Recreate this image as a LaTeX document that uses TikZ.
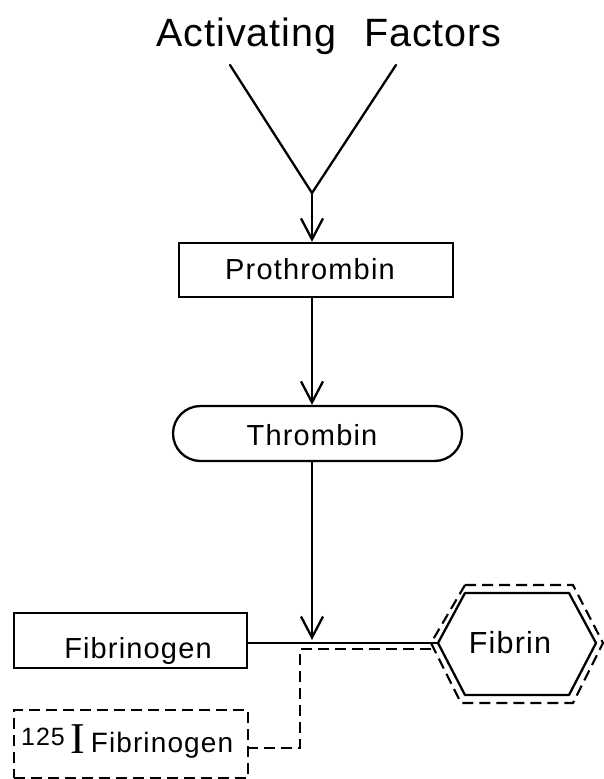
\documentclass[tikz,border=0pt]{standalone}
\usepackage{fontspec}
\setmainfont{Liberation Sans}
\newfontfamily\widefont[LetterSpace=4]{Liberation Sans}
\newfontfamily\titlefont[LetterSpace=2.5]{Liberation Sans}
\newfontfamily\serifglyph{Liberation Serif}
\usetikzlibrary{shapes.misc,arrows.meta}
\tikzset{
  x=1pt,y=-1pt,
  line/.style={line width=2.3pt,line cap=round,line join=round},
  flow/.style={line,-{Straight Barb[length=21pt,width=22pt,line width=2.3pt]}},
  dash line/.style={line width=2.1pt,dash pattern=on 11pt off 6pt},
  boxed/.style={draw,line width=2.3pt,inner sep=0pt},
  lbl/.style={inner sep=0pt,font=\widefont\fontsize{29}{31}\selectfont}
}
\begin{document}
\begin{tikzpicture}
\useasboundingbox (0,0) rectangle (603,779);
\node[lbl,font=\titlefont\fontsize{39.5}{42}\selectfont,anchor=base] (title) at (329,46) {Activating\hspace{0.7em}Factors};
\coordinate (vl) at (230,65);
\coordinate (vr) at (396,65);
\coordinate (vj) at (312,193);
\node[boxed,minimum width=274pt,minimum height=54pt] (pro) at (316,270) {};
\node[lbl,anchor=base] (protxt) at (310,279) {Prothrombin};
\node[boxed,rounded rectangle,minimum width=289pt,minimum height=55pt] (thr) at (317.5,433.5) {};
\node[lbl,anchor=base] (thrtxt) at (312,445) {Thrombin};
\node[boxed,minimum width=233pt,minimum height=55pt] (fib) at (130.5,640.5) {};
\node[lbl,anchor=base] (fibtxt) at (138,658) {Fibrinogen};
\node[draw,dash line,inner sep=0pt,minimum width=234pt,minimum height=68pt] (ifib) at (131,744) {};
\node[lbl,anchor=base,font=\widefont\fontsize{25}{27}\selectfont] (n125) at (43,745) {125};
\node[lbl,anchor=base,font=\serifglyph\fontsize{44}{46}\selectfont] (iso) at (78,753) {I};
\node[lbl,anchor=base,font=\widefont\fontsize{28}{30}\selectfont] (ifibtxt) at (162,752) {Fibrinogen};
\node[lbl,anchor=base,font=\widefont\fontsize{30.5}{32}\selectfont] (fibrin) at (510,653) {Fibrin};
\coordinate (hl) at (438,643);
\coordinate (hol) at (431,643);
\coordinate (tip) at (312,640);
\coordinate (fibr) at (fib.east |- hl);
\coordinate (c1) at (300,649);
\coordinate (c2) at (300,748);
\coordinate (c3) at (ifib.east |- c2);
\draw[line] (vl) -- (vj) -- (vr);
\draw[flow] (vj) -- (pro.north -| vj);
\draw[flow] (pro.south -| vj) -- (thr.north -| vj);
\draw[flow] (thr.south -| vj) -- (tip);
\draw[line] (fibr) -- (hl);
\draw[line] (465,593) -- (569,593) -- (596,643) -- (569,695) -- (465,695) -- (hl) -- cycle;
\draw[dash line] (465,585) -- (573,585) -- (603,643) -- (573,703) -- (461,703) -- (hol) -- cycle;
\draw[dash line] (hol |- c1) -- (c1) -- (c2) -- (c3);
\end{tikzpicture}
\end{document}
